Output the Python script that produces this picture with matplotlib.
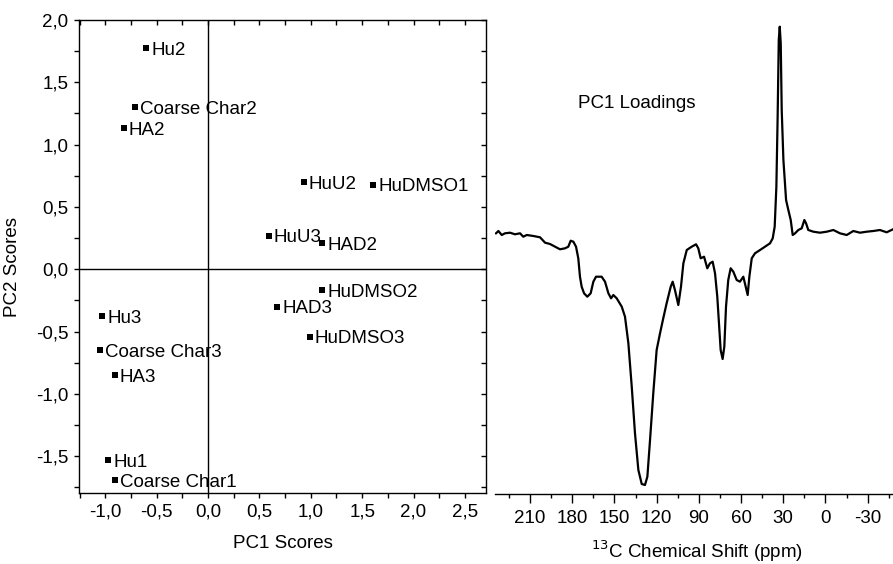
import matplotlib
matplotlib.use("Agg")
import matplotlib.pyplot as plt
from matplotlib.ticker import FixedLocator, FixedFormatter

plt.rcParams['font.family'] = ['Liberation Sans', 'DejaVu Sans']

# ---------------- Scores data ----------------
sample_names = ["Hu2", "Coarse Char2", "HA2", "HuU2", "HuDMSO1", "HuU3", "HAD2",
                "HuDMSO2", "HAD3", "HuDMSO3", "Hu3", "Coarse Char3", "HA3",
                "Hu1", "Coarse Char1"]
pc1_scores = [-0.60, -0.71, -0.82, 0.93, 1.61, 0.59, 1.11,
              1.11, 0.675, 0.99, -1.03, -1.05, -0.905, -0.97, -0.905]
pc2_scores = [1.775, 1.30, 1.13, 0.70, 0.68, 0.27, 0.21,
              -0.17, -0.30, -0.54, -0.375, -0.65, -0.85, -1.53, -1.69]

score_xticks = [-1.0, -0.5, 0.0, 0.5, 1.0, 1.5, 2.0, 2.5]
score_xticklabels = ["-1,0", "-0,5", "0,0", "0,5", "1,0", "1,5", "2,0", "2,5"]
score_yticks = [-1.5, -1.0, -0.5, 0.0, 0.5, 1.0, 1.5, 2.0]
score_yticklabels = ["-1,5", "-1,0", "-0,5", "0,0", "0,5", "1,0", "1,5", "2,0"]
score_xminor = [-1.25, -0.75, -0.25, 0.25, 0.75, 1.25, 1.75, 2.25]
score_yminor = [-1.75, -1.25, -0.75, -0.25, 0.25, 0.75, 1.25, 1.75]

# ---------------- Loadings data ----------------
shift_ppm = [234.2, 232.5, 230.1, 227.8, 224.2, 220.7, 217.1, 214.8, 212.3, 207.6,
             202.9, 199.3, 195.8, 192.2, 188.7, 185.1, 182.8, 181.1, 179.2, 177.3,
             175.7, 174.5, 173.3, 171.6, 169.3, 166.9, 165.0, 163.1, 159.1, 156.7,
             154.3, 152.4, 150.8, 148.4, 144.8, 142.5, 140.1, 137.7, 135.4, 133.0,
             130.6, 128.3, 126.6, 124.7, 122.4, 120.0, 117.6, 115.3, 112.9, 110.0,
             108.6, 107.0, 104.6, 102.7, 101.0, 98.6, 95.1, 92.0, 90.4, 88.7,
             86.3, 84.0, 82.1, 80.2, 78.5, 76.9, 75.7, 74.5, 73.1, 71.9,
             70.7, 69.1, 67.4, 65.5, 63.1, 60.8, 58.4, 56.7, 55.3, 54.1,
             52.4, 50.1, 46.5, 43.0, 39.4, 37.5, 36.1, 34.9, 34.0, 33.2,
             32.5, 31.8, 31.1, 29.9, 28.0, 26.4, 24.7, 23.3, 21.6, 19.3,
             16.9, 15.0, 13.8, 12.2, 8.6, 3.9, -0.9, -5.6, -10.3, -15.1,
             -19.8, -24.5, -29.3, -34.0, -38.7, -43.5, -48.0]
pc1_loading = [-0.003, 0.020, -0.020, -0.003, 0.003, -0.013, -0.003, -0.037, -0.020, -0.030,
               -0.043, -0.097, -0.110, -0.137, -0.163, -0.153, -0.137, -0.077, -0.087, -0.137,
               -0.253, -0.437, -0.537, -0.603, -0.637, -0.603, -0.487, -0.437, -0.437, -0.487,
               -0.603, -0.653, -0.620, -0.653, -0.737, -0.837, -1.103, -1.537, -2.003, -2.370,
               -2.510, -2.520, -2.437, -2.070, -1.603, -1.170, -1.003, -0.853, -0.703, -0.537,
               -0.487, -0.570, -0.720, -0.537, -0.303, -0.170, -0.137, -0.113, -0.153, -0.253,
               -0.237, -0.353, -0.303, -0.287, -0.403, -0.637, -0.903, -1.170, -1.260, -1.137,
               -0.737, -0.470, -0.353, -0.387, -0.470, -0.487, -0.437, -0.537, -0.620, -0.437,
               -0.253, -0.203, -0.170, -0.137, -0.103, -0.053, 0.063, 0.463, 1.163, 1.930,
               2.063, 1.897, 1.230, 0.730, 0.330, 0.230, 0.130, -0.020, -0.003, 0.030,
               0.047, 0.130, 0.097, 0.030, 0.013, 0.003, 0.013, 0.030, -0.003, -0.020,
               0.020, 0.003, 0.013, 0.020, 0.030, 0.007, 0.037]

shift_major = [210, 180, 150, 120, 90, 60, 30, 0, -30]
shift_major_labels = ["210", "180", "150", "120", "90", "60", "30", "0", "-30"]
shift_minor = [225, 195, 165, 135, 105, 75, 45, 15, -15, -45]

FS = 13.5
W, H = 893, 564
fig = plt.figure(figsize=(W / 100, H / 100), dpi=100)

# ---------------- Left: scores ----------------
axL = fig.add_axes([79 / W, 1 - 493 / H, (486 - 79) / W, (493 - 20) / H])
axL.plot(pc1_scores, pc2_scores, linestyle='none', marker='s', ms=4.3,
         mfc='black', mec='black', mew=0)
for name, x, y in zip(sample_names, pc1_scores, pc2_scores):
    axL.annotate(name, (x, y), xytext=(3.6, -4.8), textcoords='offset points',
                 ha='left', va='baseline', fontsize=FS)
axL.axhline(0, color='black', lw=1.0)
axL.axvline(0, color='black', lw=1.0)
axL.set_xlim(-1.255, 2.705)
axL.set_ylim(-1.795, 2.0)
axL.xaxis.set_major_locator(FixedLocator(score_xticks))
axL.xaxis.set_major_formatter(FixedFormatter(score_xticklabels))
axL.yaxis.set_major_locator(FixedLocator(score_yticks))
axL.yaxis.set_major_formatter(FixedFormatter(score_yticklabels))
axL.xaxis.set_minor_locator(FixedLocator(score_xminor))
axL.yaxis.set_minor_locator(FixedLocator(score_yminor))
for sp in axL.spines.values():
    sp.set_linewidth(1.0)
axL.tick_params(which='both', direction='out', length=3.6, width=1.0,
                labelsize=FS, top=False, right=False)
axL.tick_params(which='major', pad=4)
# inward ticks on top and right
axT = axL.secondary_xaxis('top')
axT.xaxis.set_major_locator(FixedLocator(score_xticks + score_xminor))
axT.tick_params(direction='in', length=3.6, width=1.0, labeltop=False)
axT.spines['top'].set_visible(False)
axR = axL.secondary_yaxis('right')
axR.yaxis.set_major_locator(FixedLocator(score_yticks + score_yminor))
axR.tick_params(direction='in', length=3.6, width=1.0, labelright=False)
axR.spines['right'].set_visible(False)

axL.set_xlabel("PC1 Scores", fontsize=FS, va='center')
axL.xaxis.set_label_coords(0.5, (493 - 543) / 473)
axL.set_ylabel("PC2 Scores", fontsize=FS, va='center')
axL.yaxis.set_label_coords((12 - 79) / 407, (493 - 267) / 473)

# ---------------- Right: loadings ----------------
axS = fig.add_axes([495 / W, 1 - 494 / H, (W - 495) / W, (494 - 20) / H])
axS.plot(shift_ppm, pc1_loading, color='black', lw=1.6, solid_joinstyle='round')
axS.set_xlim(234.9, -48.0)
axS.set_ylim(-2.61, 2.13)
for s in ['left', 'right', 'top']:
    axS.spines[s].set_visible(False)
axS.spines['bottom'].set_linewidth(1.0)
axS.set_yticks([])
axS.xaxis.set_major_locator(FixedLocator(shift_major))
axS.xaxis.set_major_formatter(FixedFormatter(shift_major_labels))
axS.xaxis.set_minor_locator(FixedLocator(shift_minor))
axS.tick_params(axis='x', which='major', direction='out', length=6.5, width=1.0,
                labelsize=FS, pad=5)
axS.tick_params(axis='x', which='minor', direction='out', length=3.2, width=1.0)
axS.text(134.2, 1.30, "PC1 Loadings", ha='center', va='center', fontsize=FS)
axS.set_xlabel(r"$^{13}$C Chemical Shift (ppm)", fontsize=FS, va='baseline')
axS.xaxis.set_label_coords((697 - 495) / (W - 495), (494 - 558) / 474)

fig.savefig("out.png", dpi=100)
